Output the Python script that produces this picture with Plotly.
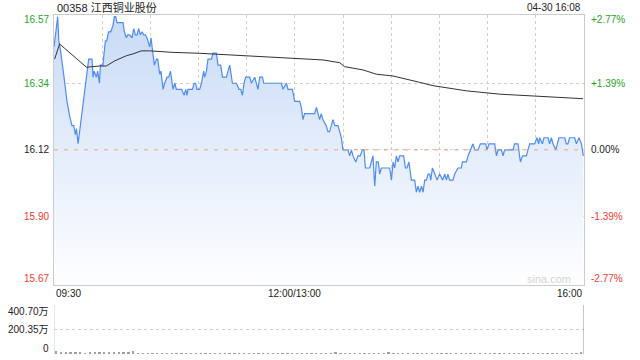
import plotly.graph_objects as go

# ---------------- data ----------------
prev_close = 16.12
y_low, y_high = 15.6735, 16.5665
price_ticks = [16.57, 16.34, 16.12, 15.90, 15.67]
pct_ticks = ["+2.77%", "+1.39%", "0.00%", "-1.39%", "-2.77%"]
vol_ticks = [400.70, 200.35, 0]
vol_tick_text = ["400.70万", "200.35万", "0"]
time_labels = ["09:30", "12:00/13:00", "16:00"]
time_label_pos = [0, 150, 330]

price_t = [0, 1, 2.3, 3, 4, 6, 8.1, 9.8, 11.2, 12.3, 13.3, 14, 15, 16.4, 18.5, 20.5, 21.6, 23.7, 24.3, 25,
           26.4, 27.2, 28.3, 28.9, 30.5, 31, 32, 32.8, 34, 35.3, 36.7, 37.6, 38.4, 39.2, 43, 43.8, 45.1, 45.9,
           47.1, 48.6, 49.6, 50.7, 51.7, 52.7, 53.8, 54.8, 55.9, 56.9, 57.9, 59.6, 60.4, 61.3, 62.5, 63.8,
           64.6, 65.8, 66.6, 67.9, 68.9, 70.4, 71.4, 72.5, 73.1, 74.1, 75.2, 76.2, 78.3, 79.5, 81, 82, 82.8,
           83.4, 86.2, 87.2, 88.2, 89, 90.7, 91.8, 93.2, 93.8, 94.9, 95.9, 98, 99, 101.1, 102.1, 103.8, 104.9,
           107.3, 108.3, 109.4, 111.1, 113.6, 115.2, 116.3, 117.3, 118.3, 119.4, 121.9, 122.9, 125, 126, 127,
           128.1, 129.8, 130.6, 141.6, 142.6, 144.7, 145.7, 148.4, 149.9, 150.5, 153, 154, 155, 156, 162.3,
           163.4, 164.4, 165.4, 166.4, 167.4, 169.5, 170.6, 171.6, 172.7, 173.7, 174.8, 176.8, 177.9, 178.9,
           179.9, 183, 184.1, 185.2, 186.2, 187.9, 189.3, 190.7, 192, 193, 193.9, 196.6, 198.6, 199.7, 200.7,
           201.9, 202.8, 203.8, 209, 210.1, 211.1, 212.1, 213.2, 214.2, 215.2, 217.7, 218.8, 219.8, 221, 222.5,
           224.6, 225.6, 226.6, 227.7, 228.8, 229.8, 230.8, 231.9, 232.9, 233.9, 234.6, 235.6, 237.1, 238.5,
           240.1, 242, 243.3, 244.3, 245.3, 246.3, 248.4, 249.5, 251.5, 253.6, 254.3, 255.7, 256.8, 257.8,
           259.3, 260.9, 262, 264, 265.5, 268.8, 269.6, 270.9, 274.4, 275.5, 276.5, 278.6, 279.6, 280.6, 285.8,
           286.8, 288.9, 290.4, 291.7, 294.1, 295.1, 296.2, 299.3, 300.7, 301.8, 302.4, 304.1, 305.1, 307.6,
           308.6, 309.7, 310.7, 312.4, 313.2, 314.4, 318, 319, 320, 321, 324.2, 325.2, 326.9, 328.4, 329.6]
price_v = [16.46, 16.50, 16.56, 16.48, 16.45, 16.37, 16.28, 16.23, 16.20, 16.20, 16.17, 16.19, 16.14, 16.20,
           16.29, 16.39, 16.42, 16.42, 16.36, 16.38, 16.36, 16.38, 16.34, 16.40, 16.40, 16.43, 16.48, 16.48,
           16.51, 16.51, 16.53, 16.56, 16.56, 16.54, 16.54, 16.51, 16.49, 16.50, 16.50, 16.49, 16.52, 16.50,
           16.50, 16.52, 16.50, 16.51, 16.50, 16.50, 16.49, 16.46, 16.49, 16.45, 16.40, 16.42, 16.42, 16.37,
           16.38, 16.32, 16.34, 16.36, 16.36, 16.38, 16.35, 16.32, 16.34, 16.32, 16.32, 16.32, 16.30, 16.32,
           16.30, 16.32, 16.32, 16.34, 16.34, 16.32, 16.32, 16.34, 16.38, 16.36, 16.38, 16.42, 16.42, 16.44,
           16.44, 16.40, 16.40, 16.36, 16.36, 16.38, 16.40, 16.34, 16.34, 16.32, 16.32, 16.30, 16.34, 16.36,
           16.36, 16.34, 16.36, 16.34, 16.32, 16.36, 16.36, 16.34, 16.34, 16.32, 16.34, 16.32, 16.32, 16.28,
           16.28, 16.28, 16.26, 16.22, 16.24, 16.24, 16.26, 16.24, 16.22, 16.24, 16.22, 16.20, 16.18, 16.18,
           16.20, 16.22, 16.20, 16.20, 16.18, 16.16, 16.12, 16.12, 16.10, 16.12, 16.10, 16.08, 16.10, 16.10,
           16.12, 16.12, 16.06, 16.06, 16.10, 16.00, 16.08, 16.08, 16.04, 16.06, 16.06, 16.02, 16.08, 16.06,
           16.10, 16.08, 16.10, 16.10, 16.06, 16.06, 16.08, 16.02, 16.02, 15.98, 16.00, 15.98, 16.00, 15.98,
           16.02, 16.02, 16.04, 16.04, 16.02, 16.06, 16.04, 16.02, 16.04, 16.02, 16.04, 16.02, 16.04, 16.02,
           16.02, 16.04, 16.06, 16.06, 16.08, 16.08, 16.08, 16.10, 16.12, 16.14, 16.12, 16.12, 16.14, 16.14,
           16.12, 16.14, 16.14, 16.10, 16.12, 16.12, 16.10, 16.12, 16.12, 16.14, 16.14, 16.08, 16.10, 16.10,
           16.12, 16.14, 16.14, 16.16, 16.14, 16.16, 16.14, 16.16, 16.16, 16.14, 16.16, 16.14, 16.12, 16.14,
           16.16, 16.16, 16.14, 16.14, 16.16, 16.16, 16.14, 16.16, 16.14, 16.10]

avg_t = [0.4, 3.5, 6.7, 9.8, 16, 20.2, 28.5, 32.6, 37.8, 45.1, 49.2, 54.4, 59.6, 74.1, 90.7, 111.5, 132.3,
         150.9, 167.5, 177.9, 180.9, 192.4, 200.7, 211.1, 223.6, 227.7, 236, 256.8, 277.5, 298.3, 314.8, 329.4]
avg_v = [16.42, 16.47, 16.455, 16.44, 16.41, 16.393, 16.397, 16.397, 16.414, 16.431, 16.437, 16.447, 16.447,
         16.442, 16.439, 16.433, 16.426, 16.42, 16.417, 16.408, 16.395, 16.384, 16.37, 16.364, 16.35, 16.343,
         16.332, 16.315, 16.304, 16.298, 16.293, 16.289]

# volume in 万 shares, 3-minute bins
volume = [22, 12, 10, 14, 9, 11, 8, 10, 13, 9, 15, 12, 18, 10, 20, 16, 22,
          8, 6, 7, 6, 5, 7, 6, 6, 5, 7, 6, 5, 6, 7, 5, 6, 6, 5, 7, 6, 5, 6, 6, 5, 7, 6, 5, 6, 5, 6, 7, 5, 6,
          7, 6, 8, 6, 7, 6, 5, 7, 12, 7, 6, 8, 7, 6, 7, 6, 8, 6, 7, 9, 6, 7, 6, 8, 7, 6, 7, 6, 7, 8,
          6, 7, 6, 7, 6, 8, 7, 6, 7, 6, 7, 6, 8, 7, 6, 7, 8, 6, 7, 6, 7, 6, 8, 7, 6, 7, 6, 8, 7, 9]
vol_bin = 3
vol_t = [i * vol_bin + vol_bin / 2 for i in range(len(volume))]

# ---------------- styling ----------------
W, H = 640, 360
ML, MR = 54, 56
FONT = "Liberation Sans, Arial, Noto Sans CJK SC, sans-serif"
GREEN, RED, BLACK = "#1fa51f", "#f23a2f", "#222222"
label_colors = [GREEN, GREEN, BLACK, RED, RED]
GRID = "#cfcfcf"

def py(px):  # pixel row -> paper y
    return 1 - px / H

fig = go.Figure()

fig.add_trace(go.Scatter(
    x=price_t, y=price_v, mode="lines",
    line=dict(color="#4e8cf3", width=1.2),
    fill="tozeroy",
    fillgradient=dict(type="vertical", start=y_low, stop=y_high,
                      colorscale=[[0, "rgba(254,254,255,1)"], [0.5, "rgba(228,237,251,1)"],
                                  [1, "rgba(200,218,246,1)"]]),
    xaxis="x", yaxis="y", hoverinfo="skip", showlegend=False))

fig.add_trace(go.Scatter(
    x=avg_t, y=avg_v, mode="lines", line=dict(color="#333333", width=1),
    xaxis="x", yaxis="y", hoverinfo="skip", showlegend=False))

fig.add_trace(go.Bar(
    x=vol_t, y=volume, width=1.1, marker=dict(color="#a0a0a0", line=dict(width=0)),
    xaxis="x2", yaxis="y2", hoverinfo="skip", showlegend=False))

main_dom = [py(285), py(14.7)]
vol_dom = [py(354), py(305)]

fig.update_layout(
    width=W, height=H, margin=dict(l=ML, r=MR, t=0, b=0),
    paper_bgcolor="white", plot_bgcolor="rgba(0,0,0,0)",
    font=dict(family=FONT, size=10, color=BLACK),
    xaxis=dict(range=[0, 330], domain=[0, 1], anchor="y", tickvals=list(range(30, 330, 30)),
               showticklabels=False, showgrid=True, gridcolor=GRID, griddash="dot", gridwidth=1,
               zeroline=False, showline=True, linecolor="#cccccc", linewidth=1, mirror=True, ticks=""),
    yaxis=dict(range=[y_low, y_high], domain=main_dom, anchor="x", tickvals=[16.34, 16.12, 15.90],
               showticklabels=False, showgrid=True, gridcolor=GRID, griddash="dot", gridwidth=1,
               zeroline=False, showline=True, linecolor="#cccccc", linewidth=1, mirror=True, ticks=""),
    xaxis2=dict(range=[0, 330], domain=[0, 1], anchor="y2", showticklabels=False, showgrid=False,
                zeroline=False, showline=False, ticks=""),
    yaxis2=dict(range=[0, 400.70], domain=vol_dom, anchor="x2", tickvals=[400.70, 200.35],
                showticklabels=False, showgrid=True, gridcolor=GRID, griddash="dot", gridwidth=1,
                zeroline=False, showline=False, ticks=""),
    bargap=0,
)

# prev close dashed line
fig.add_shape(type="line", xref="x", yref="y", x0=0, x1=330, y0=prev_close, y1=prev_close,
              line=dict(color="#f0a07a", width=1, dash="4px,6px"), layer="above")
# volume panel borders
fig.add_shape(type="line", xref="x2", yref="paper", x0=0, x1=0, y0=vol_dom[0], y1=vol_dom[1],
              line=dict(color="#d0d0d0", width=1))
fig.add_shape(type="line", xref="x2", yref="paper", x0=330, x1=330, y0=vol_dom[0], y1=vol_dom[1],
              line=dict(color="#8c8c8c", width=1))

ann = []
# title and date
ann.append(dict(text="00358 江西铜业股份", xref="paper", yref="paper", x=0, y=py(7.5), xanchor="left",
                yanchor="middle", showarrow=False, font=dict(size=11, color=BLACK), xshift=1))
ann.append(dict(text="04-30 16:08", xref="paper", yref="paper", x=1, y=py(7.5), xanchor="right",
                yanchor="middle", showarrow=False, font=dict(size=10, color=BLACK), xshift=-1))
# price / pct labels
shifts = [-5.3, 0, 0, 0, 6.6]
for v, txt, c, s in zip(price_ticks, pct_ticks, label_colors, shifts):
    yv = min(max(v, y_low), y_high)
    ann.append(dict(text=f"{v:.2f}", xref="paper", yref="y", x=0, y=yv, xanchor="right", yanchor="middle",
                    xshift=-3, yshift=s, showarrow=False, font=dict(size=10, color=c)))
    ann.append(dict(text=txt, xref="paper", yref="y", x=1, y=yv, xanchor="left", yanchor="middle",
                    xshift=5, yshift=s, showarrow=False, font=dict(size=10, color=c)))
# volume labels
vshifts = [-6.7, 0, 6]
for v, txt, s in zip(vol_ticks, vol_tick_text, vshifts):
    ann.append(dict(text=txt, xref="paper", yref="y2", x=0, y=v, xanchor="right", yanchor="middle",
                    xshift=-3, yshift=s, showarrow=False, font=dict(size=10, color=BLACK)))
# time labels
anchors = ["left", "center", "right"]
for t, txt, a in zip(time_label_pos, time_labels, anchors):
    ann.append(dict(text=txt, xref="x", yref="paper", x=t, y=py(293.3), xanchor=a, yanchor="middle",
                    showarrow=False, font=dict(size=10, color=BLACK)))
# watermark
ann.append(dict(text="sina.com", xref="paper", yref="paper", x=1, y=py(279.3), xanchor="right",
                yanchor="middle", xshift=-11, showarrow=False, font=dict(size=11, color="#d4d4d4")))

fig.update_layout(annotations=ann)
fig.write_html("out.html")
